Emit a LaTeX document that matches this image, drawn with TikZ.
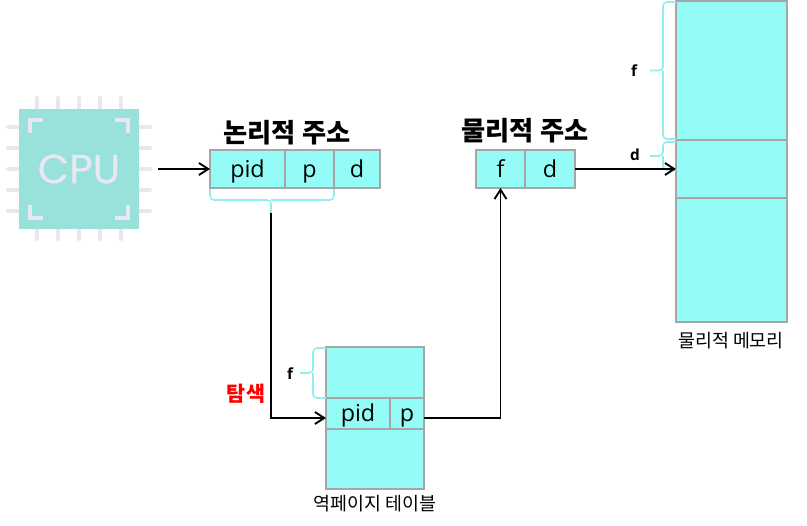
\documentclass[tikz,border=0pt]{standalone}
\usepackage{fontspec}
\usetikzlibrary{arrows.meta,positioning,calc}
\setmainfont{Open Sans}
\newfontfamily\kor{Noto Sans CJK KR}
\newfontfamily\cpufont[FakeBold=0.5]{Poppins}
\definecolor{cellcyan}{RGB}{148,252,247}
\definecolor{cellgray}{RGB}{166,166,166}
\definecolor{bracecyan}{RGB}{146,238,238}
\definecolor{cputeal}{RGB}{152,226,219}
\definecolor{cpupale}{RGB}{232,232,240}

\begin{document}
\begin{tikzpicture}[x=0.75pt,y=-0.75pt,
      every node/.style={inner sep=0pt,outer sep=0pt},
      cell/.style={draw=cellgray,line width=1.5pt,fill=cellcyan,font=\fontsize{17.5}{19}\selectfont,text height=13pt,text depth=1pt,minimum height=28.5pt},
      title/.style={font=\kor\bfseries\fontsize{19.7}{22}\selectfont},
      caption/.style={font=\kor\fontsize{13.8}{16}\selectfont},
      side/.style={font=\bfseries\fontsize{11.5}{13}\selectfont},
      brc/.style={draw=bracecyan,line width=1.2pt,rounded corners=3pt},
      conn/.style={line width=1.4pt,-{Straight Barb[length=7pt,width=9pt]}},
      pin/.style={draw=cpupale,line width=3pt,line cap=round}]
    \useasboundingbox (0,0) rectangle (807,525);
    % CPU chip
    \foreach \k in {0,...,4}{
      \draw[pin] ({37+21*\k},98) -- ({37+21*\k},239);
      \draw[pin] (8,{127+21*\k}) -- (150,{127+21*\k});
    }
    \node[fill=cputeal,text=cpupale,minimum size=90pt,font=\cpufont\fontsize{30.5}{32}\selectfont] (cpu) at (79,169) {CPU};
    \foreach \sx/\sy in {-1/-1,1/-1,1/1,-1/1}{
      \draw[pin,line cap=butt] ({79+\sx*36},{169+\sy*49}) -- ({79+\sx*49},{169+\sy*49}) -- ({79+\sx*49},{169+\sy*36});
    }
    \coordinate (cpuout) at (158,169);
    % logical address
    \node[cell,minimum width=56.25pt] (pidL) at (247.5,169) {pid};
    \node[cell,minimum width=36.75pt] (pL) at (309.5,169) {p};
    \node[cell,minimum width=34.5pt] (dL) at (357,169) {d};
    \node[title] (logical) at (287,133) {논리적 주소};
    % physical address
    \node[cell,minimum width=36.75pt] (fP) at (500.5,169) {f};
    \node[cell,minimum width=37.5pt] (dP) at (550,169) {d};
    \node[title] (physical) at (525,131) {물리적 주소};
    % inverted page table
    \node[cell,minimum width=73.5pt,minimum height=38.25pt,text height=0pt,text depth=0pt] (tabA) at (375,372.5) {};
    \node[cell,minimum width=48pt,minimum height=23.25pt] (pidT) at (358,413.5) {pid};
    \node[cell,minimum width=25.5pt,minimum height=23.25pt] (pT) at (407,413.5) {p};
    \node[cell,minimum width=73.5pt,minimum height=45pt,text height=0pt,text depth=0pt] (tabB) at (375,459) {};
    \node[caption] (tablabel) at (375,504) {역페이지 테이블};
    \coordinate (tabin) at ($(pidT.west)+(0,4.5)$);
    \coordinate (tabout) at ($(pT.east)+(0,4.5)$);
    % physical memory
    \node[cell,minimum width=83.25pt,minimum height=104.25pt,text height=0pt,text depth=0pt] (memF) at (731.5,70.5) {};
    \node[cell,minimum width=83.25pt,minimum height=43.5pt,text height=0pt,text depth=0pt] (memD) at (731.5,169) {};
    \node[cell,minimum width=83.25pt,minimum height=93pt,text height=0pt,text depth=0pt] (memR) at (731.5,260) {};
    \node[caption] (memlabel) at (731,341) {물리적 메모리};
    % braces
    \draw[brc] (210,189) -- (210,200) -- (271,200) -- (271,213) (271,200) -- (334,200) -- (334,189);
    \coordinate (bracetip) at (271,213);
    \foreach \xa/\ya/\yb in {326/348/398,676/2/139,676/142/170}{
      \draw[brc] (\xa,\ya) -- ({\xa-13},\ya) -- ({\xa-13},{(\ya+\yb)/2}) -- ({\xa-26},{(\ya+\yb)/2})
        ({\xa-13},{(\ya+\yb)/2}) -- ({\xa-13},\yb) -- (\xa,\yb);
    }
    \node[side] (fT) at (290,374) {f};
    \node[side] (fM) at (634,71) {f};
    \node[side] (dM) at (635,155) {d};
    \node[font=\kor\bfseries\fontsize{15.5}{17}\selectfont,text=red] (search) at (246,394) {탐색};
    % connectors
    \draw[conn] (cpuout) -- (pidL.west);
    \draw[conn] (bracetip) |- (tabin);
    \draw[conn] (tabout) -| (fP.south);
    \draw[conn] (dP.east) -- (memD.west);
  \end{tikzpicture}
\end{document}
